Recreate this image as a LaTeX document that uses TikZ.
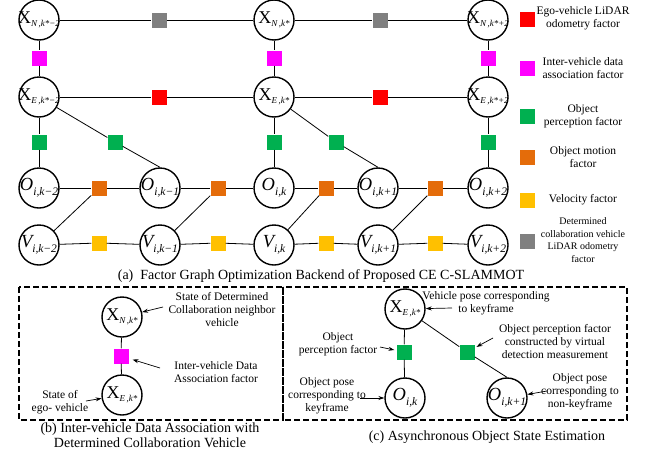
\documentclass[tikz,border=0pt]{standalone}
\usepackage{fontspec}
\setmainfont{Liberation Serif}
\usetikzlibrary{arrows.meta}
\definecolor{facred}{RGB}{255,0,0}
\definecolor{facmag}{RGB}{255,0,255}
\definecolor{facgreen}{RGB}{0,176,80}
\definecolor{facorange}{RGB}{228,108,10}
\definecolor{facyellow}{RGB}{255,192,0}
\definecolor{facgray}{RGB}{128,128,128}
\newcommand{\xstate}[1]{\makebox[0pt]{{\fontsize{18}{18}\selectfont X}\raisebox{-3.5pt}{\fontsize{9}{9}\selectfont\itshape #1}}}
\newcommand{\ostate}[2]{\makebox[0pt]{{\fontsize{18.5}{18.5}\selectfont\itshape #1}\raisebox{-4.5pt}{\fontsize{11.5}{11.5}\selectfont\itshape #2}}}
\begin{document}
\begin{tikzpicture}[x=1pt, y=-1pt,
    var/.style={circle, draw, line width=1.4pt, minimum size=40pt, inner sep=0pt},
    fac/.style={rectangle, minimum size=15pt, inner sep=0pt},
    link/.style={line width=0.8pt},
    note/.style={font=\fontsize{11.5}{13}\selectfont, align=center},
    legend/.style={font=\fontsize{11.5}{13}\selectfont, align=center},
    captext/.style={font=\fontsize{14}{15}\selectfont, align=center},
    pointer/.style={line width=0.7pt, -{Stealth[length=6pt, width=4pt]}},
    frame/.style={line width=1.3pt, dash pattern=on 6pt off 3pt}]
    \useasboundingbox (0,0) rectangle (651,453);
    % (a) ego and collaboration vehicle states
    \node[var] (xn0) at (39,20) {\xstate{N\,,k*−2}};
    \node[var] (xn2) at (274,20) {\xstate{N\,,k*}};
    \node[var] (xn4) at (488,20) {\xstate{N\,,k*+2}};
    \node[var] (xe0) at (39,97) {\xstate{E\,,k*−2}};
    \node[var] (xe2) at (274,97) {\xstate{E\,,k*}};
    \node[var] (xe4) at (488,97) {\xstate{E\,,k*+2}};
    % object poses and velocities
    \node[var] (o0) at (39,188) {\ostate{O}{i,k−2}};
    \node[var] (o1) at (160,188) {\ostate{O}{i,k−1}};
    \node[var] (o2) at (274,188) {\ostate{O}{i,k}};
    \node[var] (o3) at (378,188) {\ostate{O}{i,k+1}};
    \node[var] (o4) at (488,188) {\ostate{O}{i,k+2}};
    \node[var] (v0) at (39,245) {\ostate{V}{i,k−2}};
    \node[var] (v1) at (160,245) {\ostate{V}{i,k−1}};
    \node[var] (v2) at (274,245) {\ostate{V}{i,k}};
    \node[var] (v3) at (378,245) {\ostate{V}{i,k+1}};
    \node[var] (v4) at (488,245) {\ostate{V}{i,k+2}};
    % factors
    \node[fac, fill=facgray] (cl1) at (159,20) {};
    \node[fac, fill=facgray] (cl2) at (380,20) {};
    \node[fac, fill=facmag] (da0) at (39,58) {};
    \node[fac, fill=facmag] (da2) at (274,58) {};
    \node[fac, fill=facmag] (da4) at (488,58) {};
    \node[fac, fill=facred] (od1) at (159,97) {};
    \node[fac, fill=facred] (od2) at (380,97) {};
    \node[fac, fill=facgreen] (pe0) at (39,142) {};
    \node[fac, fill=facgreen] (pe1) at (115,142) {};
    \node[fac, fill=facgreen] (pe2) at (274,142) {};
    \node[fac, fill=facgreen] (pe3) at (336,142) {};
    \node[fac, fill=facgreen] (pe4) at (488,142) {};
    \node[fac, fill=facorange] (mo1) at (99,188) {};
    \node[fac, fill=facorange] (mo2) at (218,188) {};
    \node[fac, fill=facorange] (mo3) at (326,188) {};
    \node[fac, fill=facorange] (mo4) at (435,188) {};
    \node[fac, fill=facyellow] (ve1) at (99,243) {};
    \node[fac, fill=facyellow] (ve2) at (218,243) {};
    \node[fac, fill=facyellow] (ve3) at (326,243) {};
    \node[fac, fill=facyellow] (ve4) at (435,243) {};
    % edges
    \draw[link] (xn0) -- (cl1) -- (xn2) -- (cl2) -- (xn4);
    \draw[link] (xe0) -- (od1) -- (xe2) -- (od2) -- (xe4);
    \draw[link] (xn0) -- (da0) -- (xe0) -- (pe0) -- (o0);
    \draw[link] (xn2) -- (da2) -- (xe2) -- (pe2) -- (o2);
    \draw[link] (xn4) -- (da4) -- (xe4) -- (pe4) -- (o4);
    \draw[link] (xe0) -- (pe1) -- (o1.north);
    \draw[link] (xe2) -- (pe3) -- (o3.north);
    \draw[link] (o0) -- (mo1) -- (o1) -- (mo2) -- (o2) -- (mo3) -- (o3) -- (mo4) -- (o4);
    \draw[link] (v0) -- (ve1) -- (v1) -- (ve2) -- (v2) -- (ve3) -- (v3) -- (ve4) -- (v4);
    \draw[link] (v0) -- (mo1);
    \draw[link] (v1) -- (mo2);
    \draw[link] (v2) -- (mo3);
    \draw[link] (v3) -- (mo4);
    % legend
    \node[fac, fill=facred] (lg1) at (527,19) {};
    \node[legend] (lt1) at (583,18) {Ego-vehicle LiDAR\\odometry factor};
    \node[fac, fill=facmag] (lg2) at (527,68) {};
    \node[legend] (lt2) at (583,68) {Inter-vehicle data\\association factor};
    \node[fac, fill=facgreen] (lg3) at (527,116) {};
    \node[legend] (lt3) at (583,116) {Object\\perception factor};
    \node[fac, fill=facorange] (lg4) at (527,157) {};
    \node[legend] (lt4) at (583,157) {Object motion\\factor};
    \node[fac, fill=facyellow] (lg5) at (527,200) {};
    \node[legend] (lt5) at (583,200) {Velocity factor};
    \node[fac, fill=facgray] (lg6) at (527,241) {};
    \node[legend, font=\fontsize{10}{12.5}\selectfont] (lt6) at (583,240) {Determined\\collaboration vehicle\\LiDAR odometry\\factor};
    \node[captext] (capa) at (321,276) {(a)\ \ Factor Graph Optimization Backend of Proposed CE C-SLAMMOT};
    % (b) inter-vehicle data association
    \draw[frame] (19,287) rectangle (283,420);
    \node[var] (bxn) at (122,317) {\xstate{N\,,k*}};
    \node[fac, fill=facmag] (bda) at (121,356) {};
    \node[var] (bxe) at (122,395) {\xstate{E\,,k*}};
    \draw[link] (bxn) -- (bda) -- (bxe);
    \node[note] (bn1) at (222,310) {State of Determined\\Collaboration neighbor\\vehicle};
    \node[note] (bn2) at (216,372) {Inter-vehicle Data\\Association factor};
    \node[note] (bn3) at (60,402) {State of\\ego- vehicle};
    \coordinate (ba1) at (163,307);
    \coordinate (ba2) at (160,368);
    \coordinate (ba3) at (86,401);
    \draw[pointer] (ba1) -- (bxn);
    \draw[pointer, shorten >=4pt] (ba2) -- (bda);
    \draw[pointer] (ba3) -- (bxe);
    \node[captext] (capb) at (150,435) {(b) Inter-vehicle Data Association with\\Determined Collaboration Vehicle};
    % (c) asynchronous object state estimation
    \draw[frame] (283,287) rectangle (627,420);
    \node[var] (cxe) at (405,309) {\xstate{E\,,k*}};
    \node[fac, fill=facgreen] (cp1) at (404,352) {};
    \node[var] (co1) at (405,398) {\ostate{O}{i,k}};
    \node[fac, fill=facgreen] (cp2) at (467,352) {};
    \node[var] (co2) at (507,398) {\ostate{O}{i,k+1}};
    \draw[link] (cxe) -- (cp1) -- (co1);
    \draw[link] (cxe) -- (cp2) -- (co2.north);
    \node[note] (cn1) at (486,303) {Vehicle pose corresponding\\to keyframe};
    \node[note] (cn2) at (555,342) {Object perception factor\\constructed by virtual\\detection measurement};
    \node[note] (cn3) at (580,392) {Object pose\\corresponding to\\non-keyframe};
    \node[note] (cn4) at (338,344) {Object\\perception factor};
    \node[note] (cn5) at (327,396) {Object pose\\corresponding to\\keyframe};
    \coordinate (ca1) at (452,308);
    \coordinate (ca2) at (493,338);
    \coordinate (ca3) at (547,391);
    \coordinate (ca4) at (380,347);
    \coordinate (ca5) at (360,398);
    \draw[pointer] (ca1) -- (cxe);
    \draw[pointer, shorten >=2pt] (ca2) -- (cp2);
    \draw[pointer] (ca3) -- (co2);
    \draw[pointer, shorten >=2pt] (ca4) -- (cp1);
    \draw[pointer] (ca5) -- (co1);
    \node[captext] (capc) at (487,437) {(c) Asynchronous Object State Estimation};
\end{tikzpicture}
\end{document}
